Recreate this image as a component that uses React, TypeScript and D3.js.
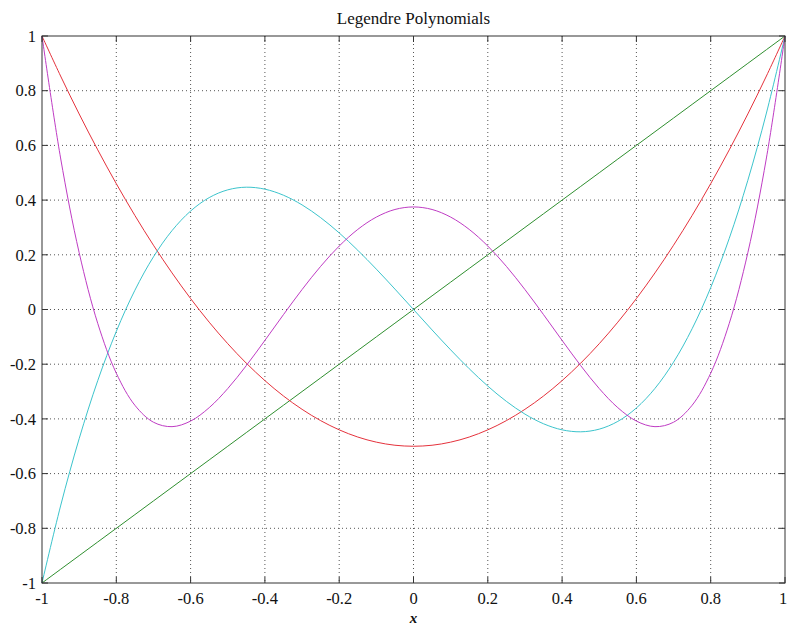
import React from "react";
import * as d3 from "d3";

const xValues = [-1, -0.95, -0.9, -0.85, -0.8, -0.75, -0.7, -0.65, -0.6, -0.55, -0.5, -0.45, -0.4, -0.35, -0.3, -0.25, -0.2, -0.15, -0.1, -0.05, 0, 0.05, 0.1, 0.15, 0.2, 0.25, 0.3, 0.35, 0.4, 0.45, 0.5, 0.55, 0.6, 0.65, 0.7, 0.75, 0.8, 0.85, 0.9, 0.95, 1];
const p1 = [-1, -0.95, -0.9, -0.85, -0.8, -0.75, -0.7, -0.65, -0.6, -0.55, -0.5, -0.45, -0.4, -0.35, -0.3, -0.25, -0.2, -0.15, -0.1, -0.05, 0, 0.05, 0.1, 0.15, 0.2, 0.25, 0.3, 0.35, 0.4, 0.45, 0.5, 0.55, 0.6, 0.65, 0.7, 0.75, 0.8, 0.85, 0.9, 0.95, 1];
const p2 = [1, 0.8538, 0.715, 0.5838, 0.46, 0.3438, 0.235, 0.1338, 0.04, -0.0463, -0.125, -0.1963, -0.26, -0.3163, -0.365, -0.4063, -0.44, -0.4663, -0.485, -0.4963, -0.5, -0.4963, -0.485, -0.4663, -0.44, -0.4063, -0.365, -0.3163, -0.26, -0.1963, -0.125, -0.0463, 0.04, 0.1338, 0.235, 0.3438, 0.46, 0.5838, 0.715, 0.8538, 1];
const p3 = [-1, -0.7184, -0.4725, -0.2603, -0.08, 0.0703, 0.1925, 0.2884, 0.36, 0.4091, 0.4375, 0.4472, 0.44, 0.4178, 0.3825, 0.3359, 0.28, 0.2166, 0.1475, 0.0747, 0, -0.0747, -0.1475, -0.2166, -0.28, -0.3359, -0.3825, -0.4178, -0.44, -0.4472, -0.4375, -0.4091, -0.36, -0.2884, -0.1925, -0.0703, 0.08, 0.2603, 0.4725, 0.7184, 1];
const p4 = [1, 0.5541, 0.2079, -0.0506, -0.233, -0.3501, -0.4121, -0.4284, -0.408, -0.359, -0.2891, -0.205, -0.113, -0.0187, 0.0729, 0.1577, 0.232, 0.2928, 0.3379, 0.3657, 0.375, 0.3657, 0.3379, 0.2928, 0.232, 0.1577, 0.0729, -0.0187, -0.113, -0.205, -0.2891, -0.359, -0.408, -0.4284, -0.4121, -0.3501, -0.233, -0.0506, 0.2079, 0.5541, 1];

const xTicks = [-1, -0.8, -0.6, -0.4, -0.2, 0, 0.2, 0.4, 0.6, 0.8, 1];
const yTicks = [-1, -0.8, -0.6, -0.4, -0.2, 0, 0.2, 0.4, 0.6, 0.8, 1];
const seriesList = [
  { name: "P1", values: p1, color: "#2f8f2f" },
  { name: "P2", values: p2, color: "#e5323c" },
  { name: "P3", values: p3, color: "#3cc4cc" },
  { name: "P4", values: p4, color: "#bf3cc4" },
];

const W = 787;
const H = 625;
const L = 42, R = 785, T = 36, B = 583;

const fmt = (v: number) => (v === 0 ? "0" : v === 1 ? "1" : v === -1 ? "-1" : String(v));

export default function App() {
  const x = d3.scaleLinear().domain([-1, 1]).range([L, R]);
  const y = d3.scaleLinear().domain([-1, 1]).range([B, T]);
  const line = d3
    .line<number>()
    .x((_, i) => x(xValues[i]))
    .y((d) => y(d))
    .curve(d3.curveCatmullRom.alpha(0.5));
  const textStyle = { fontFamily: '"Liberation Serif", "DejaVu Serif", serif' };
  return (
    <svg
      width={W}
      height={H}
      style={{ position: "absolute", left: 0, top: 0, background: "#fff", ...textStyle }}
    >
      <rect x={0} y={0} width={W} height={H} fill="#fff" />
      {xTicks.slice(1, -1).map((t) => (
        <line key={"gx" + t} x1={x(t)} x2={x(t)} y1={T} y2={B} stroke="#555" strokeWidth={1} strokeDasharray="1,3" />
      ))}
      {yTicks.slice(1, -1).map((t) => (
        <line key={"gy" + t} x1={L} x2={R} y1={y(t)} y2={y(t)} stroke="#555" strokeWidth={1} strokeDasharray="1,3" />
      ))}
      {seriesList.map((s) => (
        <path key={s.name} d={line(s.values) || ""} fill="none" stroke={s.color} strokeWidth={1} />
      ))}
      <rect x={L} y={T} width={R - L} height={B - T} fill="none" stroke="#333" strokeWidth={1} />
      {xTicks.map((t) => (
        <g key={"tx" + t}>
          <line x1={x(t)} x2={x(t)} y1={B} y2={B - 6} stroke="#333" />
          <line x1={x(t)} x2={x(t)} y1={T} y2={T + 6} stroke="#333" />
          <text x={t === 1 ? x(t) - 2 : x(t)} y={604} textAnchor="middle" fontSize={16.5} fill="#111" style={textStyle}>
            {fmt(t)}
          </text>
        </g>
      ))}
      {yTicks.map((t) => (
        <g key={"ty" + t}>
          <line x1={L} x2={L + 6} y1={y(t)} y2={y(t)} stroke="#333" />
          <line x1={R} x2={R - 6} y1={y(t)} y2={y(t)} stroke="#333" />
          <text x={36} y={y(t)} dy="0.35em" textAnchor="end" fontSize={16.5} fill="#111" style={textStyle}>
            {fmt(t)}
          </text>
        </g>
      ))}
      <text x={(L + R) / 2} y={24} textAnchor="middle" fontSize={17} fill="#111" style={textStyle}>
        Legendre Polynomials
      </text>
      <text x={(L + R) / 2} y={623} textAnchor="middle" fontSize={15} fontStyle="italic" fontWeight="bold" fill="#111" style={textStyle}>
        x
      </text>
    </svg>
  );
}
